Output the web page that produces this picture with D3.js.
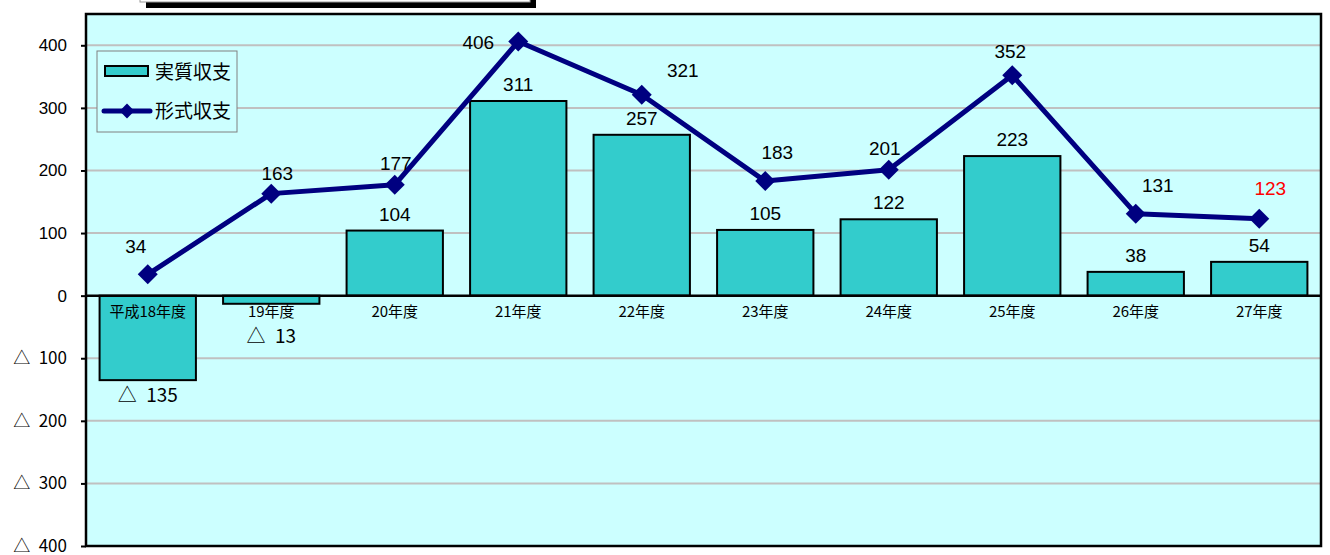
<!DOCTYPE html>
<html>
<head>
<meta charset="utf-8">
<script src="https://cdn.jsdelivr.net/npm/d3@7"></script>
<style>
  body { margin: 0; background: #fff; }
  text { font-family: "Liberation Sans", "Noto Sans CJK JP", sans-serif; }
  .jp { font-family: "Noto Sans CJK JP", sans-serif; }
</style>
</head>
<body>
<div id="chart"></div>
<script>
// Data
const categories = ['平成18年度', '19年度', '20年度', '21年度', '22年度', '23年度', '24年度', '25年度', '26年度', '27年度'];
const jisshitsu = [-135, -13, 104, 311, 257, 105, 122, 223, 38, 54];   // 実質収支 (bars)
const keishiki = [34, 163, 177, 406, 321, 183, 201, 352, 131, 123];   // 形式収支 (line)
const yTicks = [400, 300, 200, 100, 0, -100, -200, -300, -400];

// label nudges for the line values, [dx, dy] from the marker
const lineLabelNudge = [[-12, -28], [6, -21], [1, -22], [-40, 0], [41, -25], [12, -29], [-4, -22], [-2, -24], [22, -29], [11, -31]];

const W = 1330, H = 555;
const plot = {left: 86, top: 14, right: 1321, bottom: 546};

// negative values are written with a triangle
const fmt = d => d < 0 ? '△\u2002' + (-d) : String(d);

const svg = d3.select('#chart').append('svg')
    .attr('width', W)
    .attr('height', H);

// cut-off title box at top
svg.append('rect')
    .attr('x', 146).attr('y', -10).attr('width', 390).attr('height', 18)
    .attr('fill', '#000');
svg.append('rect')
    .attr('x', 140).attr('y', -12).attr('width', 390).attr('height', 14)
    .attr('fill', '#fff').attr('stroke', '#999').attr('stroke-width', 1);

// Scales
const x = d3.scaleBand()
    .domain(categories)
    .range([plot.left, plot.right])
    .padding(0);

const y = d3.scaleLinear()
    .domain([-400, 450])
    .range([plot.bottom, plot.top]);

// Plot background
svg.append('rect')
    .attr('x', plot.left).attr('y', plot.top)
    .attr('width', plot.right - plot.left).attr('height', plot.bottom - plot.top)
    .attr('fill', '#CCFFFF');

// Gridlines
svg.append('g')
    .selectAll('line')
    .data(yTicks.filter(d => d !== 0 && d !== -400))
  .enter().append('line')
    .attr('x1', plot.left).attr('x2', plot.right)
    .attr('y1', d => y(d)).attr('y2', d => y(d))
    .attr('stroke', '#C0C0C0')
    .attr('stroke-width', 2);

// Y axis
const yAxis = svg.append('g')
    .attr('transform', `translate(${plot.left},0)`)
    .call(d3.axisLeft(y).tickValues(yTicks).tickSize(5).tickPadding(14).tickFormat(fmt));
yAxis.select('.domain').remove();
yAxis.selectAll('line').attr('stroke', '#000').attr('stroke-width', 2);
yAxis.selectAll('text')
    .style('font-size', '17px')
    .style('font-family', '"Liberation Sans", "Noto Sans CJK JP", sans-serif')
    .attr('fill', '#000');
yAxis.selectAll('.tick').filter(d => d < 0).select('text')
    .style('font-family', '"Noto Sans CJK JP", sans-serif')
    .style('font-size', '17px');

// Bars
const barW = x.bandwidth() * 0.78;
svg.append('g')
    .selectAll('rect')
    .data(jisshitsu)
  .enter().append('rect')
    .attr('x', (d, i) => x(categories[i]) + (x.bandwidth() - barW) / 2)
    .attr('y', d => y(Math.max(0, d)))
    .attr('width', barW)
    .attr('height', d => Math.abs(y(d) - y(0)))
    .attr('fill', '#33CCCC')
    .attr('stroke', '#000')
    .attr('stroke-width', 2);

// Zero line
svg.append('line')
    .attr('x1', plot.left).attr('x2', plot.right)
    .attr('y1', y(0)).attr('y2', y(0))
    .attr('stroke', '#000').attr('stroke-width', 2.5);

// Category labels (inside the plot, under the zero line)
svg.append('g')
    .selectAll('text')
    .data(categories)
  .enter().append('text')
    .attr('class', 'jp')
    .attr('x', d => x(d) + x.bandwidth() / 2)
    .attr('y', y(0) + 21)
    .attr('text-anchor', 'middle')
    .style('font-size', '15px')
    .text(d => d);

// Bar value labels
svg.append('g')
    .selectAll('text')
    .data(jisshitsu)
  .enter().append('text')
    .attr('x', (d, i) => x(categories[i]) + x.bandwidth() / 2)
    .attr('y', (d, i) => d >= 0 ? y(d) - 10 : y(d) + (i === 1 ? 39 : 22))
    .attr('text-anchor', 'middle')
    .style('font-size', '19px')
    .style('font-family', d => d < 0 ? '"Noto Sans CJK JP", sans-serif' : null)
    .text(fmt);

// Line
const line = d3.line()
    .x((d, i) => x(categories[i]) + x.bandwidth() / 2)
    .y(d => y(d));

svg.append('path')
    .datum(keishiki)
    .attr('d', line)
    .attr('fill', 'none')
    .attr('stroke', '#000080')
    .attr('stroke-width', 5)
    .attr('stroke-linejoin', 'round');

const diamond = d3.symbol().type(d3.symbolSquare).size(200);
svg.append('g')
    .selectAll('path')
    .data(keishiki)
  .enter().append('path')
    .attr('d', diamond)
    .attr('transform', (d, i) => `translate(${x(categories[i]) + x.bandwidth() / 2},${y(d)}) rotate(45)`)
    .attr('fill', '#000080');

// Line value labels
svg.append('g')
    .selectAll('text')
    .data(keishiki)
  .enter().append('text')
    .attr('x', (d, i) => x(categories[i]) + x.bandwidth() / 2 + lineLabelNudge[i][0])
    .attr('y', (d, i) => y(d) + lineLabelNudge[i][1] + 7)
    .attr('text-anchor', 'middle')
    .style('font-size', '19px')
    .attr('fill', (d, i) => i === keishiki.length - 1 ? '#FF0000' : '#000')
    .text(d => d);

// Plot border
svg.append('rect')
    .attr('x', plot.left).attr('y', plot.top)
    .attr('width', plot.right - plot.left).attr('height', plot.bottom - plot.top)
    .attr('fill', 'none')
    .attr('stroke', '#000')
    .attr('stroke-width', 2.5);

// Legend
const legend = svg.append('g')
    .attr('transform', 'translate(97, 51)');

legend.append('rect')
    .attr('width', 140).attr('height', 81)
    .attr('fill', '#CCFFFF')
    .attr('stroke', '#808080')
    .attr('stroke-width', 1);

legend.append('rect')
    .attr('x', 8).attr('y', 15).attr('width', 43).attr('height', 10)
    .attr('fill', '#33CCCC')
    .attr('stroke', '#000')
    .attr('stroke-width', 2);

legend.append('line')
    .attr('x1', 7).attr('x2', 53)
    .attr('y1', 60).attr('y2', 60)
    .attr('stroke', '#000080')
    .attr('stroke-width', 5)
    .attr('stroke-linecap', 'round');

legend.append('path')
    .attr('d', d3.symbol().type(d3.symbolSquare).size(110))
    .attr('transform', 'translate(30,60) rotate(45)')
    .attr('fill', '#000080');

[['実質収支', 21], ['形式収支', 60]].forEach(item => {
    legend.append('text')
        .attr('class', 'jp')
        .attr('x', 58)
        .attr('y', item[1] + 7)
        .style('font-size', '19px')
        .text(item[0]);
});
</script>
</body>
</html>
